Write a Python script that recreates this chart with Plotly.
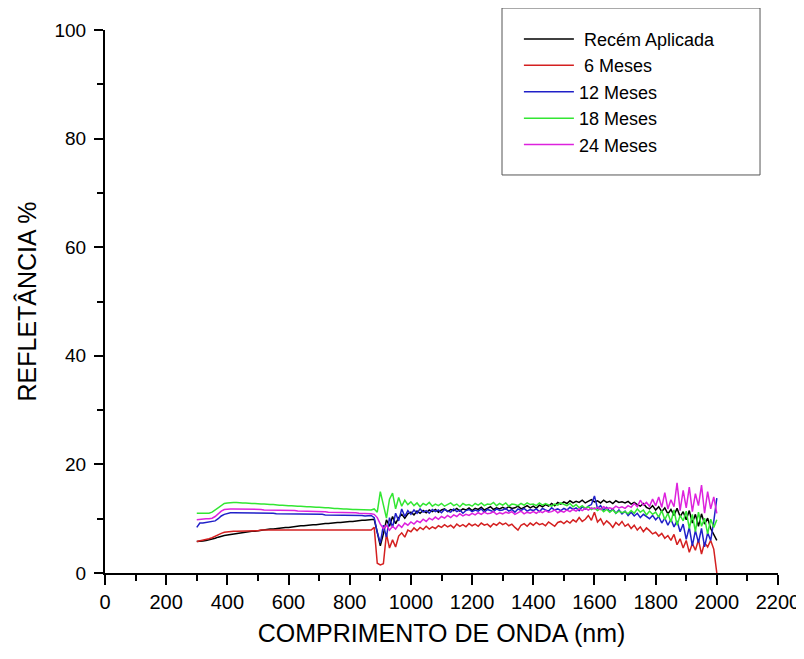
import plotly.graph_objects as go

# Wavelength grid (nm), 10 nm steps from 300 to 2000
wavelength = list(range(300, 2001, 10))

recem_aplicada = [
    5.8, 5.8, 5.9, 6.0, 6.1, 6.2, 6.4, 6.6, 6.8, 6.9,
    7.0, 7.1, 7.2, 7.3, 7.4, 7.5, 7.5, 7.6, 7.7, 7.7,
    7.8, 7.9, 7.9, 8.0, 8.1, 8.1, 8.2, 8.3, 8.3, 8.4,
    8.4, 8.5, 8.5, 8.6, 8.7, 8.7, 8.8, 8.8, 8.9, 8.9,
    9.0, 9.0, 9.1, 9.1, 9.2, 9.2, 9.3, 9.3, 9.4, 9.4,
    9.5, 9.5, 9.6, 9.6, 9.7, 9.7, 9.8, 9.8, 9.9, 7.5,
    5.0, 7.2, 9.8, 8.6, 10.4, 9.1, 10.2, 10.8, 10.1, 10.9,
    11.2, 10.7, 11.4, 11.0, 11.5, 11.1, 11.6, 11.3, 11.7, 11.2,
    11.6, 11.8, 11.3, 11.7, 11.5, 11.9, 11.4, 11.8, 11.6, 12.0,
    11.5, 11.9, 11.7, 12.1, 11.6, 11.9, 12.2, 11.7, 12.0, 11.8,
    12.1, 11.8, 12.2, 11.9, 12.0, 12.3, 11.8, 12.1, 12.4, 12.0,
    12.3, 11.9, 12.5, 12.2, 12.6, 12.3, 12.8, 12.4, 13.0, 12.7,
    13.1, 12.8, 13.3, 12.9, 13.2, 13.0, 13.4, 12.9, 13.2, 13.5,
    13.1, 13.3, 12.9, 13.4, 13.0, 13.2, 12.8, 13.3, 13.0, 13.1,
    12.9, 13.2, 12.7, 13.0, 12.6, 12.3, 12.8, 12.1, 11.8, 12.4,
    11.6, 12.2, 11.3, 12.0, 10.9, 11.7, 10.6, 11.9, 10.4, 11.3,
    9.8, 11.5, 9.2, 10.8, 8.6, 10.9, 9.0, 10.1, 8.2, 7.0,
    6.0,
]

meses_6 = [
    5.8, 5.9, 6.0, 6.1, 6.3, 6.5, 6.8, 7.1, 7.3, 7.5,
    7.6, 7.6, 7.7, 7.7, 7.7, 7.8, 7.8, 7.8, 7.8, 7.8,
    7.8, 7.9, 7.9, 7.9, 7.9, 7.9, 7.9, 7.9, 7.9, 7.9,
    7.9, 7.9, 7.9, 7.9, 7.9, 7.8, 7.8, 7.8, 7.8, 7.8,
    7.8, 7.8, 7.8, 7.8, 7.8, 7.8, 7.8, 7.8, 7.8, 7.8,
    7.8, 7.8, 7.8, 7.8, 7.8, 7.8, 7.8, 7.9, 8.4, 1.8,
    1.5, 1.7, 7.2, 4.6, 6.1, 4.8, 6.8, 7.4, 6.6, 7.9,
    7.6, 8.3, 7.8, 8.4, 8.0, 8.6, 8.1, 8.5, 8.2, 8.7,
    8.4, 8.9, 8.5, 8.8, 8.3, 9.0, 8.6, 8.9, 8.5, 9.1,
    8.7, 9.0, 8.6, 9.2, 8.8, 9.0, 8.5, 9.1, 8.8, 9.3,
    8.9, 9.2, 8.7, 9.0, 8.4, 7.9, 8.8, 9.1, 8.6, 9.2,
    8.8, 9.3, 8.9, 9.1, 8.7, 9.4, 9.0, 8.6, 9.3, 9.5,
    9.1, 9.6, 9.2, 9.8, 9.4, 10.2, 9.5, 9.9, 10.6, 9.7,
    11.2, 9.4, 10.0, 8.9, 9.6, 9.1, 8.4, 9.3, 8.8, 9.5,
    8.6, 9.0, 8.2, 8.8, 7.9, 8.5, 7.6, 8.3, 7.8, 7.2,
    7.5, 6.8, 7.3, 6.4, 6.9, 6.0, 7.1, 5.2, 6.3, 4.6,
    6.0, 3.8, 5.4, 4.2, 6.1, 3.5, 5.6, 4.8, 6.0, 4.4,
    0.0,
]

meses_12 = [
    8.4, 9.2, 9.2, 9.3, 9.3, 9.4, 9.6, 10.0, 10.5, 10.8,
    11.0, 11.1, 11.1, 11.1, 11.1, 11.1, 11.1, 11.1, 11.0, 11.0,
    11.0, 11.0, 11.0, 11.0, 11.0, 11.0, 10.9, 10.9, 10.9, 10.9,
    10.9, 10.9, 10.9, 10.9, 10.8, 10.8, 10.8, 10.8, 10.8, 10.8,
    10.8, 10.8, 10.7, 10.7, 10.7, 10.7, 10.7, 10.7, 10.6, 10.6,
    10.6, 10.6, 10.6, 10.6, 10.6, 10.5, 10.5, 10.6, 10.2, 7.5,
    5.5, 8.8, 6.6, 10.2, 8.4, 11.0, 9.6, 11.8, 10.4, 11.5,
    10.8, 11.6, 11.0, 11.8, 11.2, 11.5, 11.0, 11.7, 11.3, 11.6,
    11.1, 11.7, 11.4, 11.2, 11.8, 11.3, 11.6, 11.0, 11.5, 11.7,
    11.3, 11.6, 11.4, 11.8, 11.2, 11.7, 11.5, 11.3, 11.8, 11.5,
    11.6, 11.9, 11.4, 11.7, 11.2, 11.8, 11.5, 11.9, 11.4, 11.7,
    11.5, 11.8, 11.3, 11.9, 11.6, 11.4, 12.0, 11.6, 11.8, 11.5,
    11.9, 11.6, 12.1, 11.7, 12.0, 11.5, 12.2, 11.8, 12.3, 12.6,
    14.2, 11.9, 12.4, 11.6, 12.1, 11.3, 11.8, 11.0, 11.6, 10.9,
    11.4, 10.6, 11.2, 10.5, 11.0, 10.2, 10.8, 10.4, 10.0, 10.6,
    9.8, 10.4, 9.2, 10.1, 8.8, 9.9, 8.5, 9.6, 7.6, 9.0,
    6.2, 8.4, 5.0, 7.8, 5.6, 8.2, 4.8, 7.4, 6.0, 9.5,
    13.8,
]

meses_18 = [
    11.0, 11.0, 10.9, 10.9, 11.0, 11.2, 11.6, 12.1, 12.5, 12.8,
    12.9, 13.0, 13.0, 13.0, 12.9, 12.9, 12.9, 12.8, 12.8, 12.8,
    12.7, 12.7, 12.7, 12.6, 12.6, 12.6, 12.5, 12.5, 12.5, 12.4,
    12.4, 12.4, 12.3, 12.3, 12.3, 12.2, 12.2, 12.2, 12.1, 12.1,
    12.1, 12.0, 12.0, 12.0, 11.9, 11.9, 11.9, 11.8, 11.8, 11.8,
    11.7, 11.7, 11.7, 11.7, 11.6, 11.6, 11.6, 11.6, 11.8, 11.2,
    15.0, 12.4, 10.1, 13.6, 14.7, 11.8, 13.9, 12.3, 13.4, 12.6,
    13.1, 12.4, 12.9, 12.2, 12.8, 12.5, 13.0, 12.3, 12.7, 12.4,
    12.8, 12.3, 12.6, 12.9, 12.4, 12.7, 12.2, 12.8, 12.5, 12.6,
    12.3, 12.8, 12.5, 12.9, 12.4, 12.7, 12.6, 13.0, 12.4, 12.8,
    12.5, 12.9, 12.3, 12.7, 12.6, 12.4, 12.8, 12.5, 12.9, 12.6,
    12.7, 12.4, 12.9, 12.5, 12.8, 12.6, 12.3, 12.7, 12.5, 12.9,
    12.6, 12.4, 12.8, 12.2, 12.6, 12.0, 12.4, 11.9, 12.2, 11.7,
    12.0, 11.5, 11.9, 11.3, 11.7, 11.2, 11.6, 11.0, 11.4, 11.1,
    11.3, 10.9, 11.5, 11.0, 11.8, 11.2, 11.6, 10.7, 11.4, 10.8,
    11.2, 10.3, 11.5, 9.8, 11.0, 9.4, 11.6, 8.8, 10.6, 9.6,
    11.4, 8.2, 10.8, 7.6, 11.2, 8.6, 10.1, 7.2, 9.9, 8.4,
    9.8,
]

meses_24 = [
    9.8, 9.9, 9.9, 10.0, 10.0, 10.1, 10.4, 10.9, 11.4, 11.7,
    11.8, 11.8, 11.8, 11.8, 11.8, 11.8, 11.7, 11.7, 11.7, 11.7,
    11.7, 11.7, 11.6, 11.6, 11.6, 11.6, 11.6, 11.5, 11.5, 11.5,
    11.5, 11.5, 11.5, 11.4, 11.4, 11.4, 11.4, 11.4, 11.3, 11.3,
    11.3, 11.3, 11.3, 11.2, 11.2, 11.2, 11.2, 11.2, 11.1, 11.1,
    11.1, 11.1, 11.1, 11.0, 11.0, 11.0, 11.0, 10.9, 10.8, 10.2,
    9.0, 8.2, 8.8, 7.9, 8.6, 8.1, 8.9, 8.4, 9.2, 8.8,
    9.4, 9.0, 9.6, 9.3, 9.9, 9.5, 10.1, 9.8, 10.3, 9.9,
    10.4, 10.1, 10.6, 10.2, 10.7, 10.4, 10.9, 10.5, 10.8, 10.6,
    11.0, 10.7, 11.1, 10.8, 11.2, 10.9, 11.0, 11.3, 10.8, 11.1,
    10.9, 11.2, 11.0, 11.3, 10.8, 11.1, 11.4, 10.9, 11.2, 11.0,
    11.3, 11.0, 11.4, 11.1, 11.5, 11.2, 11.3, 11.6, 11.1, 11.4,
    11.2, 11.6, 11.3, 11.7, 11.4, 11.8, 11.5, 11.9, 11.6, 12.0,
    11.8, 12.1, 11.7, 12.2, 11.9, 12.0, 11.8, 12.3, 12.0, 12.2,
    11.9, 12.4, 12.1, 12.8, 12.2, 13.4, 12.5, 13.0, 12.3, 13.6,
    12.4, 14.0, 12.1, 14.8, 11.8, 13.5, 12.2, 16.6, 11.5, 15.2,
    12.0, 15.8, 11.3, 14.6, 12.4, 16.2, 11.0, 15.0, 11.8, 14.0,
    11.0,
]

series_names = ["\u00a0Recém Aplicada", "\u00a06 Meses", "12 Meses", "18 Meses", "24 Meses"]
series_values = [recem_aplicada, meses_6, meses_12, meses_18, meses_24]
series_colors = ["#000000", "#d42020", "#2020c8", "#33e633", "#dd22dd"]

x_ticks = [0, 200, 400, 600, 800, 1000, 1200, 1400, 1600, 1800, 2000, 2200]
y_ticks = [0, 20, 40, 60, 80, 100]

fig = go.Figure()
for name, vals, col in zip(series_names, series_values, series_colors):
    fig.add_trace(go.Scatter(
        x=wavelength, y=vals, mode="lines", name=name,
        line=dict(color=col, width=1.5),
    ))

font_main = "Liberation Sans, Arial, sans-serif"

fig.update_layout(
    width=800, height=651,
    margin=dict(l=97, r=30, t=22, b=86),
    paper_bgcolor="white", plot_bgcolor="white",
    font=dict(family=font_main, color="black"),
    showlegend=True,
    legend=dict(
        x=0.615, y=1.017, xanchor="left", yanchor="top",
        bgcolor="rgba(0,0,0,0)", borderwidth=0,
        font=dict(size=18, family=font_main),
        itemwidth=50, tracegroupgap=0,
    ),
    shapes=[dict(
        type="rect", xref="paper", yref="paper",
        x0=0.5899, x1=0.9733, y0=0.733, y1=1.0405,
        line=dict(color="#555555", width=1), fillcolor="rgba(0,0,0,0)",
    )],
)

fig.update_xaxes(
    range=[0, 2200], tickvals=x_ticks, ticktext=[str(v) for v in x_ticks],
    showgrid=False, zeroline=False, showline=True, linecolor="black", linewidth=2,
    ticks="outside", ticklen=10, tickwidth=2, tickcolor="black",
    tickfont=dict(size=20, family=font_main), automargin=False,
    minor=dict(ticks="outside", ticklen=6, tickwidth=1.5, tickcolor="black", dtick=100, showgrid=False),
    title=dict(text="COMPRIMENTO DE ONDA (nm)", font=dict(size=25, family=font_main), standoff=12),
)
fig.update_yaxes(
    range=[0, 100], tickvals=y_ticks, ticktext=[str(v) for v in y_ticks],
    showgrid=False, zeroline=False, showline=True, linecolor="black", linewidth=2,
    ticks="outside", ticklen=9, tickwidth=2, tickcolor="black",
    tickfont=dict(size=19, family=font_main), automargin=False, ticklabelstandoff=4,
    minor=dict(ticks="outside", ticklen=6, tickwidth=1.5, tickcolor="black", dtick=10, showgrid=False),
    title=dict(text="REFLETÂNCIA %", font=dict(size=25, family=font_main), standoff=11),
)

fig.write_html("out.html")
